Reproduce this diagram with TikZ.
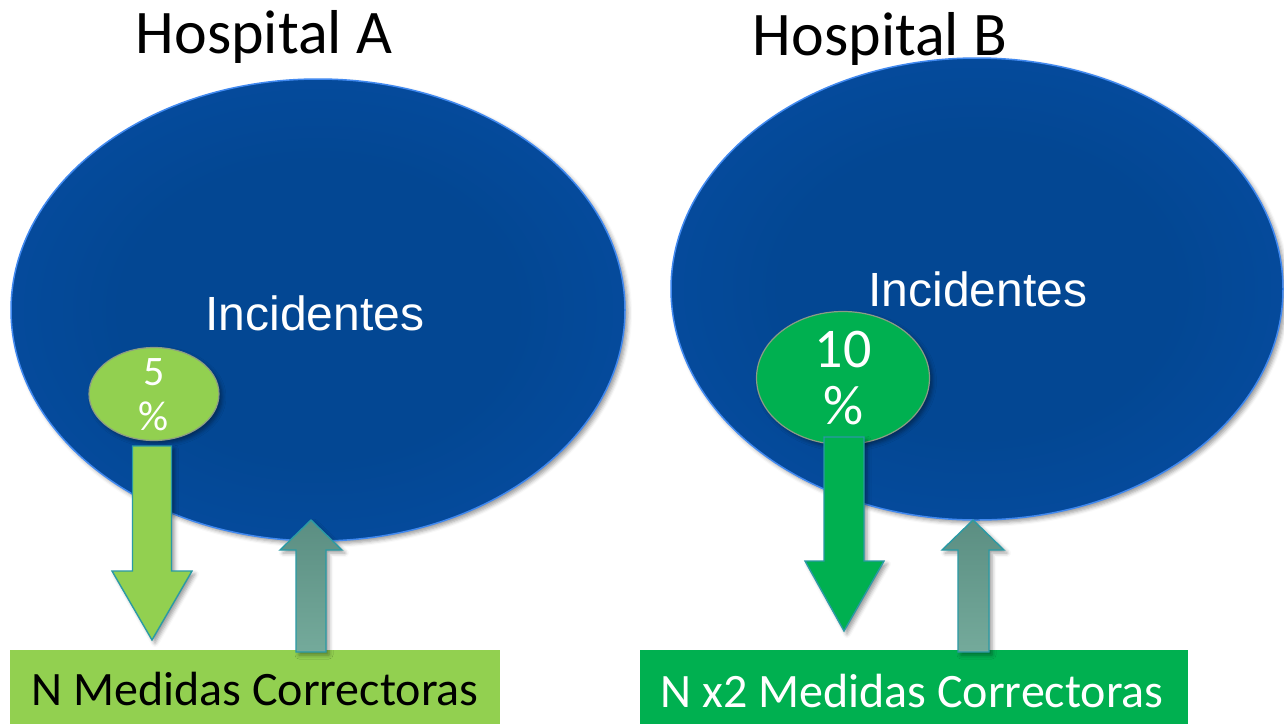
\documentclass[tikz,border=0pt]{standalone}
\usepackage{fontspec}
\setmainfont{Carlito}
\newfontfamily\arialfont{Liberation Sans}
\usetikzlibrary{shapes.geometric,shadows.blur}

\definecolor{bluein}{HTML}{034793}
\definecolor{bluemid}{HTML}{064DA2}
\definecolor{blueout}{HTML}{0C57B6}
\definecolor{blueedge}{HTML}{1E66CC}
\definecolor{bluerim}{HTML}{4189F0}
\definecolor{lightgreen}{HTML}{92D050}
\definecolor{deepgreen}{HTML}{00B050}
\definecolor{tealline}{HTML}{2A9AA5}
\definecolor{uptop}{HTML}{5B8E82}
\definecolor{upbottom}{HTML}{74AA9B}
\definecolor{smallrim}{HTML}{8C9C86}

\pgfdeclareradialshading{bigblue}{\pgfpoint{0bp}{0bp}}{%
  color(0bp)=(bluein); color(16bp)=(bluein); color(32bp)=(bluemid);
  color(44bp)=(blueout); color(50bp)=(blueedge)}

\tikzset{
  softshadow/.style={blur shadow={shadow xshift=3pt, shadow yshift=-3pt,
      shadow blur radius=4pt, shadow opacity=40}},
  bigoval/.style={ellipse, draw=bluerim, line width=1.5pt, shading=bigblue,
      inner sep=0pt, softshadow},
  smalloval/.style={ellipse, draw=smallrim, line width=1.2pt, inner sep=0pt, softshadow},
  footbox/.style={rectangle, inner sep=0pt, anchor=north west},
  downarrow/.style={draw=tealline, line width=1.4pt, line join=miter, softshadow},
  uparrow/.style={draw=tealline, line width=1.4pt, line join=miter,
      top color=uptop, bottom color=upbottom, softshadow},
  title/.style={font=\fontsize{62}{62}\selectfont, anchor=base},
  inctext/.style={font=\arialfont\fontsize{48}{48}\selectfont, text=white, anchor=base},
  foottext/.style={font=\fontsize{48}{48}\selectfont, anchor=base},
  pcttext/.style={text=white, anchor=base},
}

\begin{document}
\begin{tikzpicture}[x=1pt, y=-1pt]
\useasboundingbox (0,0) rectangle (1284,724);

% incident populations
\node[bigoval, minimum width=614pt, minimum height=462pt] (ovalA) at (318,310) {};
\node[bigoval, minimum width=612pt, minimum height=462pt] (ovalB) at (977,289) {};

% corrective-measure bars
\node[footbox, fill=lightgreen, minimum width=490pt, minimum height=74pt] (boxA) at (10,650) {};
\node[footbox, fill=deepgreen, minimum width=548pt, minimum height=74pt] (boxB) at (640,650) {};

% share of incidents
\node[smalloval, fill=lightgreen, minimum width=130pt, minimum height=93pt] (dotA) at (154,394) {};
\node[smalloval, fill=deepgreen, minimum width=173pt, minimum height=133pt] (dotB) at (843,378) {};

% block arrows, hospital A
\draw[downarrow, fill=lightgreen]
  (132.5,446) -- (171.5,446) -- (171.5,571) -- (192,571) -- (152,640)
  -- (112,571) -- (132.5,571) -- cycle;
\draw[uparrow]
  (296,652) -- (326,652) -- (326,550) -- (342,550) -- (311,520)
  -- (280,550) -- (296,550) -- cycle;

% block arrows, hospital B
\draw[downarrow, fill=deepgreen]
  (824,437) -- (864,437) -- (864,561) -- (884,561) -- (844,631)
  -- (805,561) -- (824,561) -- cycle;
\draw[uparrow]
  (958,652) -- (989,652) -- (989,550) -- (1004,550) -- (973,520)
  -- (942,550) -- (958,550) -- cycle;

% titles
\node[title] (titleA) at (264,53) {Hospital A};
\node[title] (titleB) at (880,55) {Hospital B};

% labels inside the large ovals
\node[inctext] (incA) at (315,330) {Incidentes};
\node[inctext] (incB) at (978,306) {Incidentes};

% percentages
\node[pcttext, font=\fontsize{42}{42}\selectfont] (pctA1) at (154,385) {5};
\node[pcttext, font=\fontsize{42}{42}\selectfont] (pctA2) at (154,430) {\%};
\node[pcttext, font=\fontsize{56}{56}\selectfont] (pctB1) at (843,367) {10};
\node[pcttext, font=\fontsize{56}{56}\selectfont] (pctB2) at (844,424) {\%};

% bar captions
\node[foottext, text=black] (capA) at (255,705) {N Medidas Correctoras};
\node[foottext, text=white] (capB) at (912,707) {N x2 Medidas Correctoras};
\end{tikzpicture}
\end{document}
